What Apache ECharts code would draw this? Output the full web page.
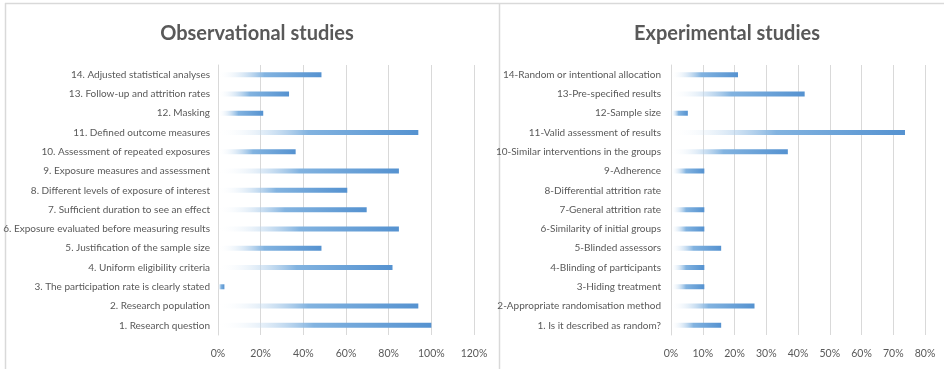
<!DOCTYPE html>
<html>
<head>
<meta charset="utf-8">
<script src="https://cdn.jsdelivr.net/npm/echarts@6/dist/echarts.min.js"></script>
<style>
  html, body { margin: 0; padding: 0; background: #fff; }
  #chart { width: 944px; height: 369px; }
</style>
</head>
<body>
<div id="chart"></div>
<script>
// Observational studies checklist items (bottom to top) and share of studies meeting each
const obsItems = [
  '1. Research question',
  '2. Research population',
  '3. The participation rate is clearly stated',
  '4. Uniform eligibility criteria',
  '5. Justification of the sample size',
  '6. Exposure evaluated before measuring results',
  '7. Sufficient duration to see an effect',
  '8. Different levels of exposure of interest',
  '9. Exposure measures and assessment',
  '10. Assessment of repeated exposures',
  '11. Defined outcome measures',
  '12. Masking',
  '13. Follow-up and attrition rates',
  '14. Adjusted statistical analyses'
];
const obsValues = [100, 93.9, 3.0, 81.8, 48.5, 84.8, 69.7, 60.6, 84.8, 36.4, 93.9, 21.2, 33.3, 48.5];

// Experimental studies checklist items (bottom to top) and share of studies meeting each
const expItems = [
  '1. Is it described as random?',
  '2-Appropriate randomisation method',
  '3-Hiding treatment',
  '4-Blinding of participants',
  '5-Blinded assessors',
  '6-Similarity of initial groups',
  '7-General attrition rate',
  '8-Differential attrition rate',
  '9-Adherence',
  '10-Similar interventions in the groups',
  '11-Valid assessment of results',
  '12-Sample size',
  '13-Pre-specified results',
  '14-Random or intentional allocation'
];
const expValues = [15.8, 26.3, 10.5, 10.5, 15.8, 10.5, 10.5, 0, 10.5, 36.8, 73.7, 5.3, 42.1, 21.1];

const obsTicks = { min: 0, max: 120, interval: 20 };
const expTicks = { min: 0, max: 80, interval: 10 };

const FONT = 'Lato, "Liberation Sans", sans-serif';
const TEXT = '#595959';
const GRID = '#d9d9d9';

const barFill = new echarts.graphic.LinearGradient(0, 0, 1, 0, [
  { offset: 0, color: 'rgba(255,255,255,0)' },
  { offset: 0.45, color: '#82b3e0' },
  { offset: 1, color: '#5592d0' }
]);

function valueAxis(gridIndex, t) {
  return {
    type: 'value', gridIndex, min: t.min, max: t.max, interval: t.interval,
    axisLine: { show: false }, axisTick: { show: false },
    splitLine: { lineStyle: { color: GRID, width: 1 } },
    axisLabel: { formatter: '{value}%', color: TEXT, fontFamily: FONT, fontSize: 10.5, margin: 13 }
  };
}
function catAxis(gridIndex, items, margin) {
  return {
    type: 'category', gridIndex, data: items,
    axisLine: { show: true, lineStyle: { color: GRID } }, axisTick: { show: false },
    axisLabel: { color: TEXT, fontFamily: FONT, fontSize: 10, margin, interval: 0 }
  };
}

const chart = echarts.init(document.getElementById('chart'), null, { renderer: 'canvas' });
chart.setOption({
  animation: false,
  backgroundColor: '#fff',
  title: [
    { text: 'Observational studies', left: 252, top: 19, textAlign: 'center',
      textStyle: { fontFamily: FONT, fontWeight: 'bold', fontSize: 20, color: TEXT } },
    { text: 'Experimental studies', left: 722, top: 19, textAlign: 'center',
      textStyle: { fontFamily: FONT, fontWeight: 'bold', fontSize: 20, color: TEXT } }
  ],
  graphic: [
    { type: 'line', shape: { x1: 5, y1: 3.5, x2: 944, y2: 3.5 }, style: { stroke: '#d9d9d9', lineWidth: 1.5 } },
    { type: 'line', shape: { x1: 5.5, y1: 3, x2: 5.5, y2: 369 }, style: { stroke: '#d9d9d9', lineWidth: 1.5 } },
    { type: 'line', shape: { x1: 499.5, y1: 3, x2: 499.5, y2: 369 }, style: { stroke: '#d9d9d9', lineWidth: 1.5 } }
  ],
  grid: [
    { left: 218, right: 470, top: 65, bottom: 34, containLabel: false, outerBoundsMode: 'none' },
    { left: 671, right: 19, top: 65, bottom: 34, containLabel: false, outerBoundsMode: 'none' }
  ],
  xAxis: [valueAxis(0, obsTicks), valueAxis(1, expTicks)],
  yAxis: [catAxis(0, obsItems, 8), catAxis(1, expItems, 10)],
  series: [
    { type: 'bar', xAxisIndex: 0, yAxisIndex: 0, data: obsValues, barWidth: 5,
      itemStyle: { color: barFill } },
    { type: 'bar', xAxisIndex: 1, yAxisIndex: 1, data: expValues, barWidth: 5,
      itemStyle: { color: barFill } }
  ]
});
</script>
</body>
</html>
